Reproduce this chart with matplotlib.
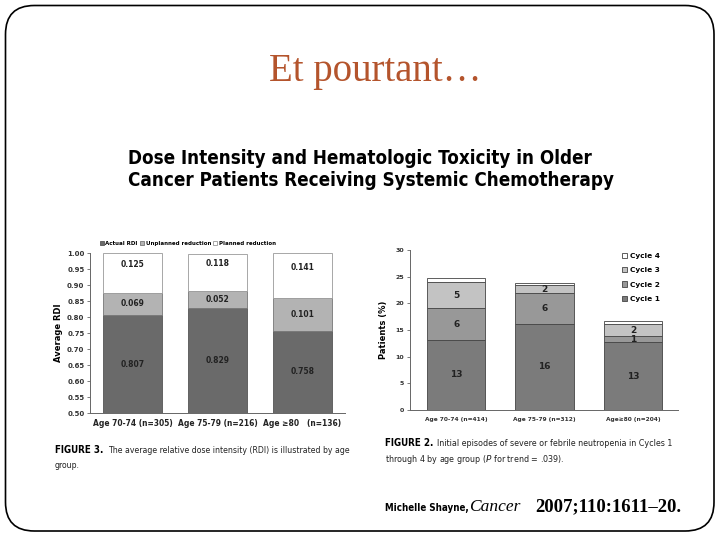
import matplotlib

matplotlib.use("Agg")
import matplotlib.pyplot as plt
from matplotlib.patches import FancyBboxPatch
import numpy as np

# left chart: average relative dose intensity by age group
rdi_groups = ["Age 70-74 (n=305)", "Age 75-79 (n=216)", "Age \u226580   (n=136)"]
actual_rdi = [0.807, 0.829, 0.758]
unplanned_red = [0.069, 0.052, 0.101]
planned_red = [0.125, 0.118, 0.141]
rdi_ticks = [0.50, 0.55, 0.60, 0.65, 0.70, 0.75, 0.80, 0.85, 0.90, 0.95, 1.00]

# right chart: initial neutropenia episodes by cycle
neut_groups = ["Age 70-74 (n=414)", "Age 75-79 (n=312)", "Age\u226580 (n=204)"]
cycle_names = ["Cycle 1", "Cycle 2", "Cycle 3", "Cycle 4"]
cycle_vals = [
    [13.1, 16.1, 12.7],
    [6.0, 5.8, 1.1],
    [4.9, 1.5, 2.3],
    [0.7, 0.4, 0.6],
]
cycle_text = [
    ["13", "16", "13"],
    ["6", "6", "1"],
    ["5", "2", "2"],
    ["", "", ""],
]
neut_ticks = [0, 5, 10, 15, 20, 25, 30]

SANS = "DejaVu Sans"
SERIF = ["Liberation Serif", "DejaVu Serif"]
COND = dict(family=SANS, fontstretch="condensed")

fig = plt.figure(figsize=(7.2, 5.4), dpi=100)
fig.patch.set_facecolor("white")

# slide frame
frame = FancyBboxPatch((5.5 / 720, 9 / 540), 708.5 / 720, 525.5 / 540,
                       boxstyle="round,pad=0,rounding_size=0.04",
                       transform=fig.transFigure, fill=False,
                       edgecolor="black", linewidth=1.2, mutation_aspect=720 / 540)
fig.patches.append(frame)

fig.text(0.521, 0.867, "Et pourtant\u2026", family=SERIF, fontsize=28,
         color="#b4542c", ha="center", va="center")

fig.text(0.178, 0.686, "Dose Intensity and Hematologic Toxicity in Older\n"
         "Cancer Patients Receiving Systemic Chemotherapy",
         fontsize=13.5, fontweight="bold", ha="left", va="center",
         linespacing=1.25, **COND)

# ---- left chart ----
ax1 = fig.add_axes([0.125, 0.235, 0.354, 0.296])
x1 = np.arange(len(rdi_groups))
w1 = 0.69
ax1.bar(x1, actual_rdi, w1, color="#6a6a6a", edgecolor="#555555", linewidth=0.6,
        label="Actual RDI")
bot = np.array(actual_rdi)
ax1.bar(x1, unplanned_red, w1, bottom=bot, color="#b3b3b3", edgecolor="#777777",
        linewidth=0.6, label="Unplanned reduction")
bot2 = bot + np.array(unplanned_red)
ax1.bar(x1, planned_red, w1, bottom=bot2, color="white", edgecolor="#999999",
        linewidth=0.6, label="Planned reduction")
for i in range(len(rdi_groups)):
    ax1.text(x1[i], (0.5 + actual_rdi[i]) / 2, f"{actual_rdi[i]:.3f}",
             ha="center", va="center", fontsize=5.5, fontweight="bold", color="#222222")
    ax1.text(x1[i], bot[i] + unplanned_red[i] / 2, f"{unplanned_red[i]:.3f}",
             ha="center", va="center", fontsize=5.5, fontweight="bold", color="#222222")
    ax1.text(x1[i], (bot2[i] + 1.0) / 2 + 0.027, f"{planned_red[i]:.3f}",
             ha="center", va="center", fontsize=5.5, fontweight="bold", color="#222222")
ax1.set_ylim(0.5, 1.0)
ax1.set_xlim(-0.5, 2.5)
ax1.set_yticks(rdi_ticks)
ax1.set_yticklabels([f"{t:.2f}" for t in rdi_ticks], fontsize=5, fontweight="bold",
                    color="#333333")
ax1.set_xticks(x1)
ax1.set_xticklabels(rdi_groups, fontsize=6.0, fontweight="bold", color="#222222",
                    **COND)
ax1.tick_params(axis="x", length=0, pad=4)
ax1.tick_params(axis="y", length=2, width=0.6, color="#666666", pad=2)
ax1.set_ylabel("Average RDI", fontsize=6, fontweight="bold", labelpad=3)
for s in ["top", "right"]:
    ax1.spines[s].set_visible(False)
for s in ["left", "bottom"]:
    ax1.spines[s].set_color("#666666")
    ax1.spines[s].set_linewidth(0.7)
ax1.legend(loc="lower left", bbox_to_anchor=(0.03, 1.03), ncol=3, frameon=False,
           handlelength=0.7, handleheight=0.7, handletextpad=0.3,
           columnspacing=0.4, borderaxespad=0, prop={"weight": "bold", "size": 4.0})

fig.text(0.076, 0.161, "FIGURE 3.", fontsize=7, fontweight="bold", **COND)
fig.text(0.150, 0.161, "The average relative dose intensity (RDI) is illustrated by age",
         fontsize=6.2, color="#222222", **COND)
fig.text(0.076, 0.134, "group.", fontsize=6.2, color="#222222", **COND)

# ---- right chart ----
ax2 = fig.add_axes([0.569, 0.241, 0.372, 0.296])
x2 = np.arange(len(neut_groups))
w2 = 0.66
cycle_colors = ["#7b7b7b", "#989898", "#c3c3c3", "white"]
bottoms = np.zeros(len(neut_groups))
for k in range(len(cycle_names)):
    vals = np.array(cycle_vals[k])
    ax2.bar(x2, vals, w2, bottom=bottoms, color=cycle_colors[k], edgecolor="#444444",
            linewidth=0.6, label=cycle_names[k])
    for i in range(len(neut_groups)):
        if cycle_text[k][i]:
            ax2.text(x2[i], bottoms[i] + vals[i] / 2, cycle_text[k][i], ha="center",
                     va="center", fontsize=6.5, fontweight="bold", color="#222222")
    bottoms = bottoms + vals
ax2.set_ylim(0, 30)
ax2.set_xlim(-0.525, 2.5)
ax2.set_yticks(neut_ticks)
ax2.set_yticklabels([str(t) for t in neut_ticks], fontsize=4.5, fontweight="bold",
                    color="#333333")
ax2.set_xticks(x2)
ax2.set_xticklabels(neut_groups, fontsize=4.2, fontweight="bold", color="#333333")
ax2.tick_params(axis="x", length=0, pad=5)
ax2.tick_params(axis="y", length=2, width=0.6, color="#666666", pad=2)
ax2.set_ylabel("Patients (%)", fontsize=6, fontweight="bold", labelpad=5)
for s in ["top", "right"]:
    ax2.spines[s].set_visible(False)
for s in ["left", "bottom"]:
    ax2.spines[s].set_color("#666666")
    ax2.spines[s].set_linewidth(0.7)
h, l = ax2.get_legend_handles_labels()
ax2.legend(h[::-1], l[::-1], loc="upper left", bbox_to_anchor=(0.78, 1.0),
           frameon=False, handlelength=0.7, handleheight=0.7, handletextpad=0.4,
           labelspacing=1.1, borderaxespad=0, prop={"weight": "bold", "size": 5.3})

fig.text(0.535, 0.174, "FIGURE 2.", fontsize=7, fontweight="bold", **COND)
fig.text(0.607, 0.174, "Initial episodes of severe or febrile neutropenia in Cycles 1",
         fontsize=6.4, color="#222222", **COND)
fig.text(0.535, 0.145, "through 4 by age group ($P$ for trend = .039).",
         fontsize=6.4, color="#222222", **COND)

# citation
fig.text(0.535, 0.054, "Michelle Shayne,", fontsize=7.0, fontweight="bold",
         va="baseline", **COND)
fig.text(0.652, 0.054, "Cancer", family=SERIF, fontsize=12.5, style="italic",
         va="baseline")
fig.text(0.743, 0.054, "2007;110:1611\u201320.", family=SERIF, fontsize=13.5,
         fontweight="bold", va="baseline")

fig.savefig("out.png", dpi=100)
